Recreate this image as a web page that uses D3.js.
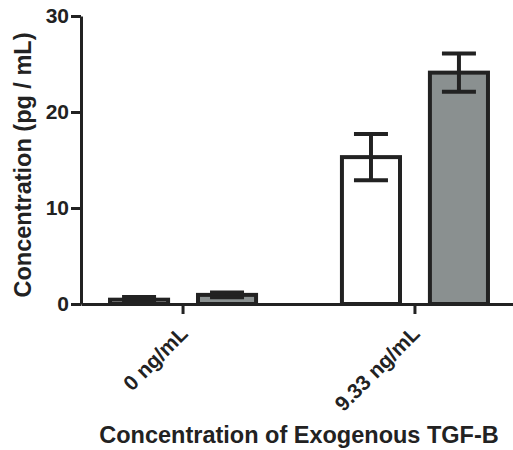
<!DOCTYPE html>
<html>
<head>
<meta charset="utf-8">
<script src="https://cdn.jsdelivr.net/npm/d3@7"></script>
<style>
  body { margin: 0; background: #fff; }
  text { font-family: "Liberation Sans", Arial, Helvetica, sans-serif; font-weight: bold; fill: #222; }
</style>
</head>
<body>
<div id="chart"></div>
<script>
// data
var doses = ["0 ng/mL", "9.33 ng/mL"];
var series = ["white", "gray"];
var whiteMeans = [0.45, 15.3];
var whiteErrs = [0.27, 2.4];
var grayMeans = [0.95, 24.1];
var grayErrs = [0.25, 2.0];
var yTicks = [0, 10, 20, 30];

var svgWidth = 513;
var svgHeight = 450;

var svg = d3.select("#chart")
  .append("svg")
  .attr("width", svgWidth)
  .attr("height", svgHeight);

var ink = "#222";

// scales
var x0 = d3.scaleBand()
  .domain(doses)
  .range([81, 517])
  .paddingInner(0.2)
  .paddingOuter(0.04);

var x1 = d3.scaleBand()
  .domain(series)
  .range([0, x0.bandwidth()])
  .paddingInner(0.34)
  .paddingOuter(0.2245);

var y = d3.scaleLinear()
  .domain([0, 30])
  .range([304, 16]);

var fills = { white: "#ffffff", gray: "#8a9090" };

// build rows for the bars
var rows = [];
doses.forEach(function(d, i) {
  rows.push({ dose: d, s: "white", mean: whiteMeans[i], err: whiteErrs[i] });
  rows.push({ dose: d, s: "gray", mean: grayMeans[i], err: grayErrs[i] });
});

// bars
svg.append("g").selectAll("rect")
  .data(rows)
  .enter()
  .append("rect")
  .attr("x", d => x0(d.dose) + x1(d.s))
  .attr("y", d => y(d.mean))
  .attr("width", x1.bandwidth())
  .attr("height", d => y(0) - y(d.mean))
  .attr("fill", d => fills[d.s])
  .attr("stroke", ink)
  .attr("stroke-width", 4);

// error bars
var capW = 17;
var errGroup = svg.append("g")
  .attr("stroke", ink)
  .attr("stroke-width", 4);

rows.forEach(function(d) {
  var cx = x0(d.dose) + x1(d.s) + x1.bandwidth() / 2;
  errGroup.append("line")
    .attr("x1", cx).attr("x2", cx)
    .attr("y1", y(d.mean + d.err))
    .attr("y2", y(d.mean - d.err));
  errGroup.append("line")
    .attr("x1", cx - capW).attr("x2", cx + capW)
    .attr("y1", y(d.mean + d.err)).attr("y2", y(d.mean + d.err));
  errGroup.append("line")
    .attr("x1", cx - capW).attr("x2", cx + capW)
    .attr("y1", y(d.mean - d.err)).attr("y2", y(d.mean - d.err));
});

// y axis
var leftAxis = d3.axisLeft(y)
  .tickValues(yTicks)
  .tickSize(10)
  .tickSizeOuter(0)
  .tickPadding(2);

var yAxis = svg.append("g")
  .attr("transform", "translate(81,0)")
  .call(leftAxis);

yAxis.selectAll("path, line")
  .attr("stroke", ink)
  .attr("stroke-width", 3);

yAxis.selectAll("text")
  .style("font-size", "21px")
  .attr("fill", ink);

// x axis
var bottomAxis = d3.axisBottom(x0)
  .tickSize(10)
  .tickSizeOuter(0);

var xAxis = svg.append("g")
  .attr("transform", "translate(0,304)")
  .call(bottomAxis);

xAxis.selectAll("path, line")
  .attr("stroke", ink)
  .attr("stroke-width", 3);

xAxis.selectAll("text")
  .style("font-size", "21px")
  .attr("fill", ink)
  .attr("text-anchor", "end")
  .attr("y", 0)
  .attr("dy", 0)
  .attr("transform", "translate(6,31) rotate(-45)");

// axis titles
svg.append("text")
  .attr("transform", "translate(31,165) rotate(-90)")
  .attr("text-anchor", "middle")
  .style("font-size", "23.5px")
  .text("Concentration (pg / mL)");

svg.append("text")
  .attr("x", 299)
  .attr("y", 443)
  .attr("text-anchor", "middle")
  .style("font-size", "23.5px")
  .text("Concentration of Exogenous TGF-B");
</script>
</body>
</html>
